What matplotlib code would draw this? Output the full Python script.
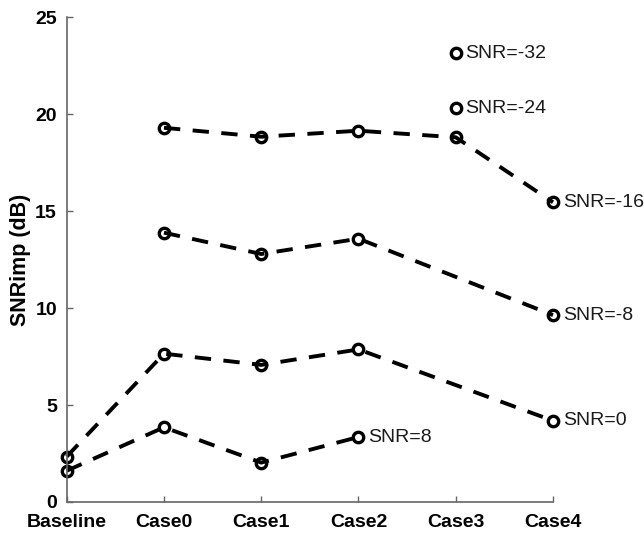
import matplotlib.pyplot as plt

categories = ["Baseline", "Case0", "Case1", "Case2", "Case3", "Case4"]
y_ticks = [0, 5, 10, 15, 20, 25]

# None = no measurement at that case
snr_8 = [1.61, 3.85, 2.03, 3.35, None, None]
snr_0 = [2.34, 7.65, 7.07, 7.87, None, 4.19]
snr_m8 = [None, 13.89, 12.79, 13.58, None, 9.64]
snr_m16 = [None, 19.30, 18.84, 19.15, 18.81, 15.46]
snr_m24 = [None, None, None, None, 20.30, None]
snr_m32 = [None, None, None, None, 23.14, None]

series = [
    ("SNR=8", snr_8),
    ("SNR=0", snr_0),
    ("SNR=-8", snr_m8),
    ("SNR=-16", snr_m16),
    ("SNR=-24", snr_m24),
    ("SNR=-32", snr_m32),
]


def main():
    plt.rcParams["font.family"] = ["Liberation Sans", "DejaVu Sans"]

    fig = plt.figure(figsize=(6.44, 5.34), dpi=100)
    ax = fig.add_axes([0.1036, 0.060, 0.7551, 0.9076])

    for label, values in series:
        xs = [i for i, v in enumerate(values) if v is not None]
        ys = [v for v in values if v is not None]
        ax.plot(
            xs,
            ys,
            color="black",
            linestyle="--",
            dashes=(4.2, 3.2),
            linewidth=2.8,
            marker="o",
            markersize=7.5,
            markerfacecolor="none",
            markeredgecolor="black",
            markeredgewidth=2.4,
            clip_on=False,
        )
        ax.annotate(
            label,
            xy=(xs[-1], ys[-1]),
            xytext=(7, 0),
            textcoords="offset points",
            va="center",
            ha="left",
            fontsize=14,
            color="#1a1a1a",
        )

    ax.set_xlim(0, 5)
    ax.set_ylim(0, 25)
    ax.set_xticks(range(len(categories)))
    ax.set_xticklabels(categories, fontweight="bold", fontsize=14)
    ax.set_yticks(y_ticks)
    ax.set_yticklabels([str(t) for t in y_ticks], fontweight="bold", fontsize=14)
    ax.set_ylabel("SNRimp (dB)", fontweight="bold", fontsize=15.5, labelpad=3)

    for side in ["top", "right"]:
        ax.spines[side].set_visible(False)
    for side in ["left", "bottom"]:
        ax.spines[side].set_color("#666666")
        ax.spines[side].set_linewidth(1.2)
    ax.tick_params(direction="in", length=4, width=1, color="#666666")
    ax.tick_params(axis="x", pad=9)
    ax.tick_params(axis="y", pad=7)

    fig.savefig("out.png", dpi=100)


if __name__ == "__main__":
    main()
